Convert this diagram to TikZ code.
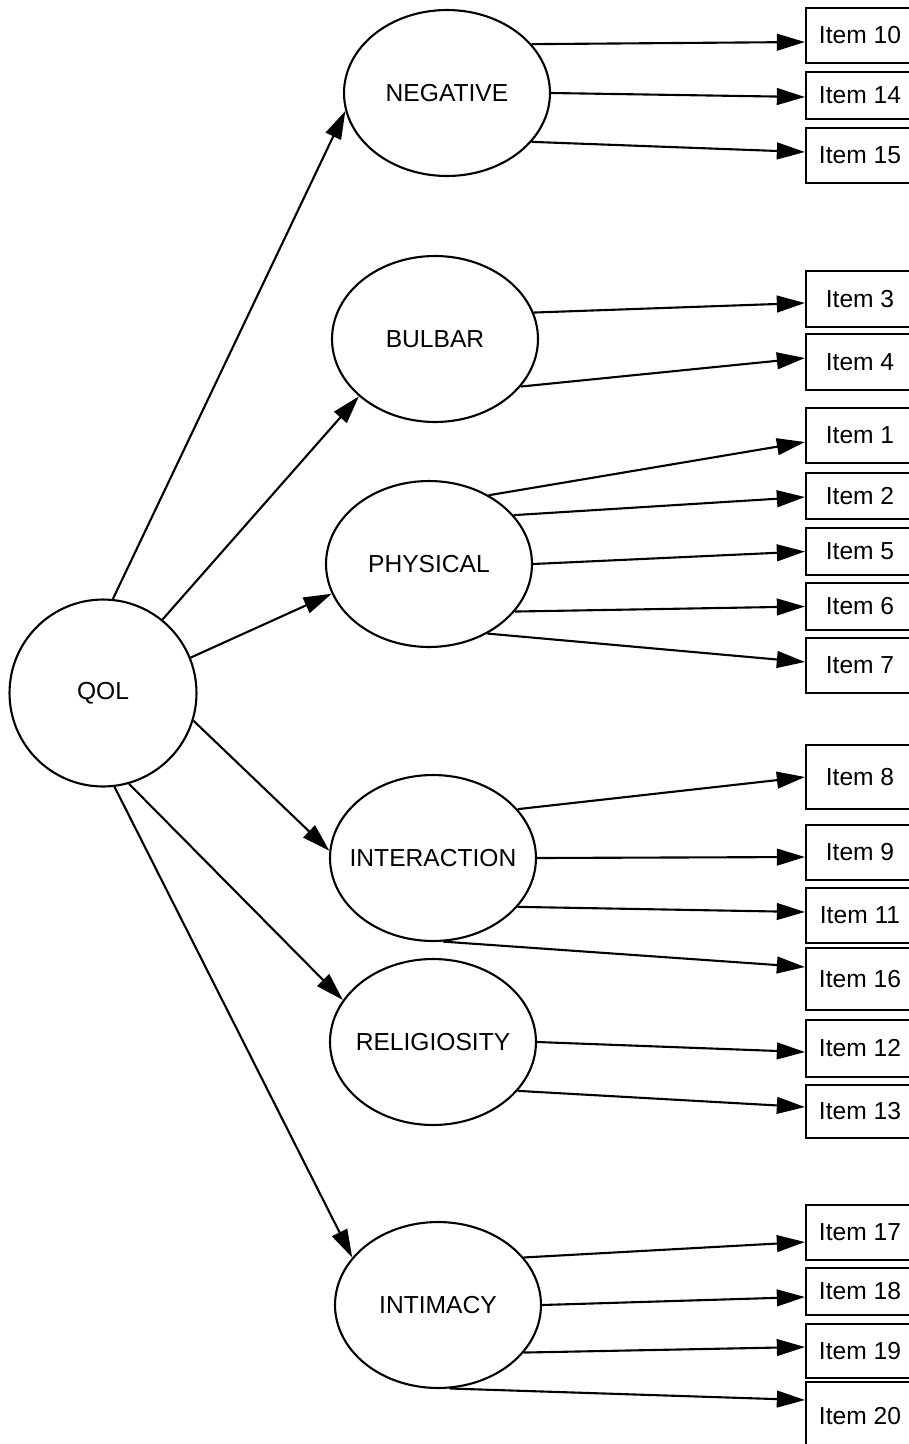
\documentclass[tikz,border=0pt]{standalone}
\usepackage{fontspec}
\setmainfont{Liberation Sans}
\usetikzlibrary{shapes.geometric,arrows.meta,calc}

\begin{document}
\begin{tikzpicture}[x=0.02cm,y=-0.02cm,font=\fontsize{14}{16}\selectfont,
  factor/.style={draw,ellipse,line width=1.2pt,minimum width=4.12cm,minimum height=3.32cm,inner sep=0pt,
    execute at begin node=\hbox to 0pt\bgroup\hss,execute at end node=\hss\egroup},
  item/.style={draw,rectangle,line width=1.2pt,minimum width=2.16cm,inner sep=0pt},
  link/.style={line width=1.2pt,-{Triangle[length=16pt,width=9.5pt]}}]
\useasboundingbox (0,0) rectangle (909,1444);
\clip (0,0) rectangle (909,1444);

\node [draw,circle,line width=1.2pt,minimum size=3.74cm] (qol) at (103,693) {QOL};

\node [factor] (neg) at (447,93) {NEGATIVE};
\node [factor] (bulb) at (435,339) {BULBAR};
\node [factor] (phys) at (429,564) {PHYSICAL};
\node [factor] (inter) at (433,858) {INTERACTION};
\node [factor] (relig) at (433,1042) {RELIGIOSITY};
\node [factor] (intim) at (438,1305) {INTIMACY};

\node [item,minimum height=1.10cm] (i10) at (860,35.5) {Item 10};
\node [item,minimum height=0.94cm] (i14) at (860,95.5) {Item 14};
\node [item,minimum height=1.10cm] (i15) at (860,155.5) {Item 15};
\node [item,minimum height=1.12cm] (i3) at (860,299) {Item 3};
\node [item,minimum height=1.12cm] (i4) at (860,362) {Item 4};
\node [item,minimum height=1.10cm] (i1) at (860,435.5) {Item 1};
\node [item,minimum height=0.92cm] (i2) at (860,496) {Item 2};
\node [item,minimum height=0.94cm] (i5) at (860,551.5) {Item 5};
\node [item,minimum height=0.94cm] (i6) at (860,606.5) {Item 6};
\node [item,minimum height=1.10cm] (i7) at (860,665.5) {Item 7};
\node [item,minimum height=1.28cm] (i8) at (860,777) {Item 8};
\node [item,minimum height=1.10cm] (i9) at (860,852.5) {Item 9};
\node [item,minimum height=1.10cm] (i11) at (860,915.5) {Item 11};
\node [item,minimum height=1.24cm] (i16) at (860,979) {Item 16};
\node [item,minimum height=1.14cm] (i12) at (860,1048.5) {Item 12};
\node [item,minimum height=1.06cm] (i13) at (860,1111.5) {Item 13};
\node [item,minimum height=1.10cm] (i17) at (860,1232.5) {Item 17};
\node [item,minimum height=0.94cm] (i18) at (860,1291.5) {Item 18};
\node [item,minimum height=1.08cm] (i19) at (860,1351) {Item 19};
\node [item,minimum height=1.36cm] (i20) at (860,1416) {Item 20};

\draw [link] (qol.84) -- (neg.190);
\draw [link] (qol.51) -- (bulb.217);
\draw [link] (qol.22) -- (phys.197);
\draw [link] (qol.343) -- (inter.176);
\draw [link] (qol.286) -- (relig.155);
\draw [link] (qol.277) -- (intim.151);

\draw [link] (neg.30) -- ($(i10.west)+(0,6.5)$);
\draw [link] (neg.0) -- ($(i14.west)+(0,1.5)$);
\draw [link] (neg.330) -- ($(i15.west)+(0,-3.5)$);
\draw [link] (bulb.15) -- ($(i3.west)+(0,4)$);
\draw [link] (bulb.331) -- ($(i4.west)+(0,-4)$);
\draw [link] (phys.49) -- ($(i1.west)+(0,6.5)$);
\draw [link] (phys.30) -- ($(i2.west)+(0,1)$);
\draw [link] (phys.0) -- (i5.west);
\draw [link] (phys.331) -- (i6.west);
\draw [link] (phys.310) -- ($(i7.west)+(0,-3.5)$);
\draw [link] (inter.30) -- (i8.west);
\draw [link] (inter.0) -- ($(i9.west)+(0,4.5)$);
\draw [link] (inter.330) -- ($(i11.west)+(0,-3.5)$);
\draw [link] (inter.277) -- ($(i16.west)+(0,-12)$);
\draw [link] (relig.0) -- ($(i12.west)+(0,3.5)$);
\draw [link] (relig.330) -- ($(i13.west)+(0,-4.5)$);
\draw [link] (intim.29) -- ($(i17.west)+(0,9.5)$);
\draw [link] (intim.0) -- ($(i18.west)+(0,5.5)$);
\draw [link] (intim.331) -- ($(i19.west)+(0,-4)$);
\draw [link] (intim.278) -- ($(i20.west)+(0,-16)$);

\end{tikzpicture}
\end{document}
